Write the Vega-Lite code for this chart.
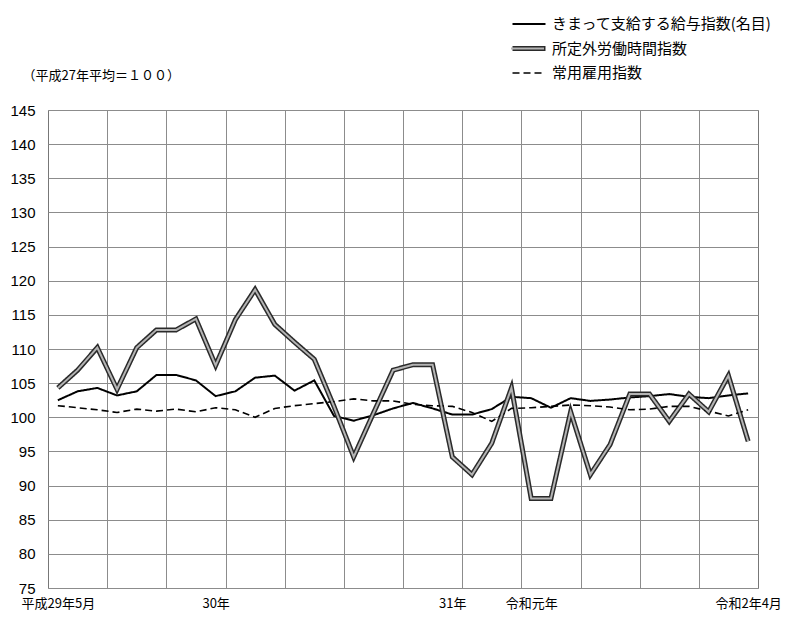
{
  "$schema": "https://vega.github.io/schema/vega-lite/v6.json",
  "width": 710,
  "height": 478,
  "autosize": {"type": "none"},
  "padding": {"left": 48, "top": 110, "right": 42, "bottom": 51},
  "background": "white",
  "config": {
    "view": {"stroke": "#777777", "strokeWidth": 1},
    "font": "Noto Sans CJK JP"
  },
  "datasets": {
    "d": [
      {"i": 0, "month": "2017-05", "series": "きまって支給する給与指数(名目)", "value": 102.5},
      {"i": 1, "month": "2017-06", "series": "きまって支給する給与指数(名目)", "value": 103.8},
      {"i": 2, "month": "2017-07", "series": "きまって支給する給与指数(名目)", "value": 104.3},
      {"i": 3, "month": "2017-08", "series": "きまって支給する給与指数(名目)", "value": 103.2},
      {"i": 4, "month": "2017-09", "series": "きまって支給する給与指数(名目)", "value": 103.8},
      {"i": 5, "month": "2017-10", "series": "きまって支給する給与指数(名目)", "value": 106.2},
      {"i": 6, "month": "2017-11", "series": "きまって支給する給与指数(名目)", "value": 106.2},
      {"i": 7, "month": "2017-12", "series": "きまって支給する給与指数(名目)", "value": 105.4},
      {"i": 8, "month": "2018-01", "series": "きまって支給する給与指数(名目)", "value": 103.1},
      {"i": 9, "month": "2018-02", "series": "きまって支給する給与指数(名目)", "value": 103.8},
      {"i": 10, "month": "2018-03", "series": "きまって支給する給与指数(名目)", "value": 105.8},
      {"i": 11, "month": "2018-04", "series": "きまって支給する給与指数(名目)", "value": 106.1},
      {"i": 12, "month": "2018-05", "series": "きまって支給する給与指数(名目)", "value": 103.9},
      {"i": 13, "month": "2018-06", "series": "きまって支給する給与指数(名目)", "value": 105.4},
      {"i": 14, "month": "2018-07", "series": "きまって支給する給与指数(名目)", "value": 100.2},
      {"i": 15, "month": "2018-08", "series": "きまって支給する給与指数(名目)", "value": 99.5},
      {"i": 16, "month": "2018-09", "series": "きまって支給する給与指数(名目)", "value": 100.3},
      {"i": 17, "month": "2018-10", "series": "きまって支給する給与指数(名目)", "value": 101.3},
      {"i": 18, "month": "2018-11", "series": "きまって支給する給与指数(名目)", "value": 102.1},
      {"i": 19, "month": "2018-12", "series": "きまって支給する給与指数(名目)", "value": 101.3},
      {"i": 20, "month": "2019-01", "series": "きまって支給する給与指数(名目)", "value": 100.4},
      {"i": 21, "month": "2019-02", "series": "きまって支給する給与指数(名目)", "value": 100.4},
      {"i": 22, "month": "2019-03", "series": "きまって支給する給与指数(名目)", "value": 101.2},
      {"i": 23, "month": "2019-04", "series": "きまって支給する給与指数(名目)", "value": 103.0},
      {"i": 24, "month": "2019-05", "series": "きまって支給する給与指数(名目)", "value": 102.8},
      {"i": 25, "month": "2019-06", "series": "きまって支給する給与指数(名目)", "value": 101.4},
      {"i": 26, "month": "2019-07", "series": "きまって支給する給与指数(名目)", "value": 102.8},
      {"i": 27, "month": "2019-08", "series": "きまって支給する給与指数(名目)", "value": 102.4},
      {"i": 28, "month": "2019-09", "series": "きまって支給する給与指数(名目)", "value": 102.6},
      {"i": 29, "month": "2019-10", "series": "きまって支給する給与指数(名目)", "value": 102.9},
      {"i": 30, "month": "2019-11", "series": "きまって支給する給与指数(名目)", "value": 103.1},
      {"i": 31, "month": "2019-12", "series": "きまって支給する給与指数(名目)", "value": 103.4},
      {"i": 32, "month": "2020-01", "series": "きまって支給する給与指数(名目)", "value": 103.0},
      {"i": 33, "month": "2020-02", "series": "きまって支給する給与指数(名目)", "value": 102.8},
      {"i": 34, "month": "2020-03", "series": "きまって支給する給与指数(名目)", "value": 103.2},
      {"i": 35, "month": "2020-04", "series": "きまって支給する給与指数(名目)", "value": 103.5},
      {"i": 0, "month": "2017-05", "series": "所定外労働時間指数", "value": 104.3},
      {"i": 1, "month": "2017-06", "series": "所定外労働時間指数", "value": 106.9},
      {"i": 2, "month": "2017-07", "series": "所定外労働時間指数", "value": 110.2},
      {"i": 3, "month": "2017-08", "series": "所定外労働時間指数", "value": 104.1},
      {"i": 4, "month": "2017-09", "series": "所定外労働時間指数", "value": 110.2},
      {"i": 5, "month": "2017-10", "series": "所定外労働時間指数", "value": 112.8},
      {"i": 6, "month": "2017-11", "series": "所定外労働時間指数", "value": 112.8},
      {"i": 7, "month": "2017-12", "series": "所定外労働時間指数", "value": 114.4},
      {"i": 8, "month": "2018-01", "series": "所定外労働時間指数", "value": 107.6},
      {"i": 9, "month": "2018-02", "series": "所定外労働時間指数", "value": 114.3},
      {"i": 10, "month": "2018-03", "series": "所定外労働時間指数", "value": 118.7},
      {"i": 11, "month": "2018-04", "series": "所定外労働時間指数", "value": 113.6},
      {"i": 12, "month": "2018-05", "series": "所定外労働時間指数", "value": 111.0},
      {"i": 13, "month": "2018-06", "series": "所定外労働時間指数", "value": 108.5},
      {"i": 14, "month": "2018-07", "series": "所定外労働時間指数", "value": 101.6},
      {"i": 15, "month": "2018-08", "series": "所定外労働時間指数", "value": 94.2},
      {"i": 16, "month": "2018-09", "series": "所定外労働時間指数", "value": 100.6},
      {"i": 17, "month": "2018-10", "series": "所定外労働時間指数", "value": 106.9},
      {"i": 18, "month": "2018-11", "series": "所定外労働時間指数", "value": 107.7},
      {"i": 19, "month": "2018-12", "series": "所定外労働時間指数", "value": 107.7},
      {"i": 20, "month": "2019-01", "series": "所定外労働時間指数", "value": 94.2},
      {"i": 21, "month": "2019-02", "series": "所定外労働時間指数", "value": 91.6},
      {"i": 22, "month": "2019-03", "series": "所定外労働時間指数", "value": 96.2},
      {"i": 23, "month": "2019-04", "series": "所定外労働時間指数", "value": 104.3},
      {"i": 24, "month": "2019-05", "series": "所定外労働時間指数", "value": 88.1},
      {"i": 25, "month": "2019-06", "series": "所定外労働時間指数", "value": 88.1},
      {"i": 26, "month": "2019-07", "series": "所定外労働時間指数", "value": 100.8},
      {"i": 27, "month": "2019-08", "series": "所定外労働時間指数", "value": 91.6},
      {"i": 28, "month": "2019-09", "series": "所定外労働時間指数", "value": 96.0},
      {"i": 29, "month": "2019-10", "series": "所定外労働時間指数", "value": 103.4},
      {"i": 30, "month": "2019-11", "series": "所定外労働時間指数", "value": 103.4},
      {"i": 31, "month": "2019-12", "series": "所定外労働時間指数", "value": 99.4},
      {"i": 32, "month": "2020-01", "series": "所定外労働時間指数", "value": 103.4},
      {"i": 33, "month": "2020-02", "series": "所定外労働時間指数", "value": 100.8},
      {"i": 34, "month": "2020-03", "series": "所定外労働時間指数", "value": 106.1},
      {"i": 35, "month": "2020-04", "series": "所定外労働時間指数", "value": 96.5},
      {"i": 0, "month": "2017-05", "series": "常用雇用指数", "value": 101.7},
      {"i": 1, "month": "2017-06", "series": "常用雇用指数", "value": 101.4},
      {"i": 2, "month": "2017-07", "series": "常用雇用指数", "value": 101.1},
      {"i": 3, "month": "2017-08", "series": "常用雇用指数", "value": 100.7},
      {"i": 4, "month": "2017-09", "series": "常用雇用指数", "value": 101.2},
      {"i": 5, "month": "2017-10", "series": "常用雇用指数", "value": 100.9},
      {"i": 6, "month": "2017-11", "series": "常用雇用指数", "value": 101.2},
      {"i": 7, "month": "2017-12", "series": "常用雇用指数", "value": 100.8},
      {"i": 8, "month": "2018-01", "series": "常用雇用指数", "value": 101.4},
      {"i": 9, "month": "2018-02", "series": "常用雇用指数", "value": 101.1},
      {"i": 10, "month": "2018-03", "series": "常用雇用指数", "value": 100.0},
      {"i": 11, "month": "2018-04", "series": "常用雇用指数", "value": 101.3},
      {"i": 12, "month": "2018-05", "series": "常用雇用指数", "value": 101.7},
      {"i": 13, "month": "2018-06", "series": "常用雇用指数", "value": 102.0},
      {"i": 14, "month": "2018-07", "series": "常用雇用指数", "value": 102.3},
      {"i": 15, "month": "2018-08", "series": "常用雇用指数", "value": 102.7},
      {"i": 16, "month": "2018-09", "series": "常用雇用指数", "value": 102.4},
      {"i": 17, "month": "2018-10", "series": "常用雇用指数", "value": 102.4},
      {"i": 18, "month": "2018-11", "series": "常用雇用指数", "value": 101.9},
      {"i": 19, "month": "2018-12", "series": "常用雇用指数", "value": 101.7},
      {"i": 20, "month": "2019-01", "series": "常用雇用指数", "value": 101.6},
      {"i": 21, "month": "2019-02", "series": "常用雇用指数", "value": 100.7},
      {"i": 22, "month": "2019-03", "series": "常用雇用指数", "value": 99.4},
      {"i": 23, "month": "2019-04", "series": "常用雇用指数", "value": 101.3},
      {"i": 24, "month": "2019-05", "series": "常用雇用指数", "value": 101.4},
      {"i": 25, "month": "2019-06", "series": "常用雇用指数", "value": 101.6},
      {"i": 26, "month": "2019-07", "series": "常用雇用指数", "value": 101.8},
      {"i": 27, "month": "2019-08", "series": "常用雇用指数", "value": 101.7},
      {"i": 28, "month": "2019-09", "series": "常用雇用指数", "value": 101.5},
      {"i": 29, "month": "2019-10", "series": "常用雇用指数", "value": 101.1},
      {"i": 30, "month": "2019-11", "series": "常用雇用指数", "value": 101.2},
      {"i": 31, "month": "2019-12", "series": "常用雇用指数", "value": 101.6},
      {"i": 32, "month": "2020-01", "series": "常用雇用指数", "value": 101.6},
      {"i": 33, "month": "2020-02", "series": "常用雇用指数", "value": 100.9},
      {"i": 34, "month": "2020-03", "series": "常用雇用指数", "value": 100.2},
      {"i": 35, "month": "2020-04", "series": "常用雇用指数", "value": 101.1}
    ]
  },
  "data": {"name": "d"},
  "resolve": {
    "axis": {"x": "independent"},
    "scale": {"stroke": "independent", "strokeWidth": "independent", "strokeDash": "independent"},
    "legend": {"stroke": "independent", "strokeWidth": "independent", "strokeDash": "independent"}
  },
  "layer": [
    {
      "mark": {"type": "line", "strokeJoin": "miter", "strokeCap": "butt"},
      "encoding": {
        "x": {
          "field": "i",
          "type": "quantitative",
          "scale": {"domain": [-0.5, 35.5], "nice": false, "zero": false},
          "axis": {
            "orient": "top",
            "values": [2.5, 5.5, 8.5, 11.5, 14.5, 17.5, 20.5, 23.5, 26.5, 29.5, 32.5],
            "tickCount": 40,
            "grid": true,
            "gridColor": "#8c8c8c",
            "gridWidth": 1,
            "labels": false,
            "ticks": false,
            "domain": false,
            "title": null
          }
        },
        "y": {
          "field": "value",
          "type": "quantitative",
          "scale": {"domain": [75, 145], "nice": false, "zero": false},
          "axis": {
            "values": [75, 80, 85, 90, 95, 100, 105, 110, 115, 120, 125, 130, 135, 140, 145],
            "tickCount": 40,
            "grid": true,
            "gridColor": "#8c8c8c",
            "gridWidth": 1,
            "domain": false,
            "ticks": false,
            "labelOverlap": false,
            "labelPadding": 13,
            "labelFont": "Liberation Sans",
            "labelFontSize": 15,
            "labelColor": "black",
            "title": "（平成27年平均＝１００）",
            "titleAngle": 0,
            "titleAlign": "left",
            "titleBaseline": "middle",
            "titleX": -26,
            "titleY": -35,
            "titleFont": "Noto Sans CJK JP",
            "titleFontSize": 13,
            "titleFontWeight": "normal",
            "titleColor": "black"
          }
        },
        "stroke": {
          "field": "series",
          "type": "nominal",
          "scale": {
            "domain": ["きまって支給する給与指数(名目)", "所定外労働時間指数", "常用雇用指数"],
            "range": ["#000000", "#2a2a2a", "#000000"]
          },
          "legend": {
            "orient": "none",
            "legendX": 462,
            "legendY": -96,
            "title": null,
            "padding": 0,
            "symbolType": "stroke",
            "symbolSize": 1089,
            "clipHeight": 20,
            "rowPadding": 4.5,
            "labelOffset": 4,
            "labelFont": "Noto Sans CJK JP",
            "labelFontSize": 15,
            "labelColor": "black",
            "labelLimit": 400
          }
        },
        "strokeWidth": {
          "field": "series",
          "type": "nominal",
          "scale": {
            "type": "ordinal",
            "domain": ["きまって支給する給与指数(名目)", "所定外労働時間指数", "常用雇用指数"],
            "range": [2, 5, 1.6]
          },
          "legend": {
            "orient": "none",
            "legendX": 462,
            "legendY": -96,
            "title": null
          }
        },
        "strokeDash": {
          "field": "series",
          "type": "nominal",
          "scale": {
            "domain": ["きまって支給する給与指数(名目)", "所定外労働時間指数", "常用雇用指数"],
            "range": [[1, 0], [1, 0], [7, 4]]
          },
          "legend": {
            "orient": "none",
            "legendX": 462,
            "legendY": -96,
            "title": null
          }
        },
        "detail": {"field": "series"}
      }
    },
    {
      "transform": [{"filter": "datum.series === '所定外労働時間指数'"}],
      "mark": {"type": "line", "strokeWidth": 2, "strokeJoin": "miter", "strokeCap": "butt"},
      "encoding": {
        "x": {
          "field": "i",
          "type": "quantitative",
          "axis": {
            "orient": "bottom",
            "values": [0, 8, 20, 24, 35],
            "labelExpr": "datum.value == 0 ? '平成29年5月' : datum.value == 8 ? '30年' : datum.value == 20 ? '31年' : datum.value == 24 ? '令和元年' : '令和2年4月'",
            "grid": false,
            "ticks": false,
            "domain": false,
            "labelFlush": false,
            "labelOverlap": false,
            "labelPadding": 9,
            "labelFont": "Noto Sans CJK JP",
            "labelFontSize": 13,
            "labelColor": "black",
            "title": null
          }
        },
        "y": {"field": "value", "type": "quantitative"},
        "stroke": {
          "field": "series",
          "type": "nominal",
          "scale": {"domain": ["所定外労働時間指数"], "range": ["#b4b4b4"]},
          "legend": {
            "orient": "none",
            "legendX": 462,
            "legendY": -71.5,
            "title": null,
            "padding": 0,
            "symbolType": "stroke",
            "symbolSize": 1089,
            "symbolStrokeWidth": 2,
            "clipHeight": 20,
            "labelOffset": 4,
            "labelFont": "Noto Sans CJK JP",
            "labelFontSize": 15,
            "labelOpacity": 0,
            "labelLimit": 400
          }
        }
      }
    }
  ]
}
